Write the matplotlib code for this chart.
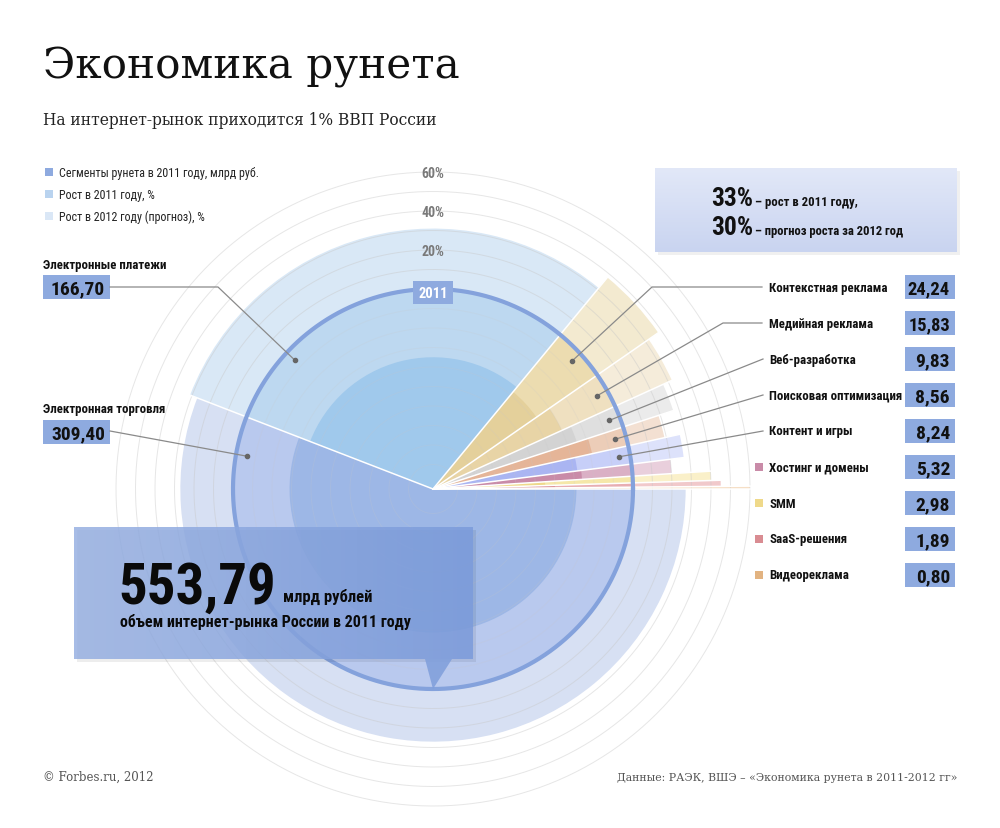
import os
import numpy as np
import matplotlib.pyplot as plt
from matplotlib import font_manager as fm
from matplotlib.patches import Wedge, Rectangle, Polygon
from matplotlib.colors import to_rgb

plt.rcParams['font.family'] = ['DejaVu Sans']

# Сегменты рунета, против часовой стрелки от горизонтали
segments = ['Видеореклама', 'SaaS-решения', 'SMM', 'Хостинг и домены', 'Контент и игры',
            'Поисковая оптимизация', 'Веб-разработка', 'Медийная реклама',
            'Контекстная реклама', 'Электронные платежи', 'Электронная торговля']
volume_2011 = [0.80, 1.89, 2.98, 5.32, 8.24, 8.56, 9.83, 15.83, 24.24, 166.70, 309.40]
growth_2011 = [50, 40, 45, 26, 28, 19, 25, 30, 38, 35, 29]   # %, на глаз
growth_2012 = [60, 45, 40, 20, 27, 19, 27, 32, 38, 31, 27]   # %, прогноз, на глаз
market_growth = [33, 30]
pct_ticks = [20, 40, 60]

# цвета: внутренний (сегмент), средний (рост 2011), внешний (рост 2012)
colors = [
    ('#e2b381', '#edcaa3', '#f6dfc6'),
    ('#d98c92', '#e8adb2', '#f1c9cb'),
    ('#efd98a', '#f5e7a9', '#faf0c9'),
    ('#c98ba8', '#dab0c5', '#e9cfdc'),
    ('#aab5f2', '#c7cff8', '#dde2fb'),
    ('#e5b598', '#eccdb8', '#f3e0d2'),
    ('#d3d3d3', '#dfdfdf', '#ebebeb'),
    ('#e8d4a6', '#efe0c0', '#f5ecda'),
    ('#e4d09b', '#ecdcb0', '#f3ead0'),
    ('#a0c9ec', '#bdd8f0', '#d9e8f6'),
    ('#9db7e6', '#b9c9ee', '#d7e0f3'),
]

W, H = 1000, 829
cx, cy = 433, 490        # центр диаграммы, px
R0, K = 200, 1.95        # кольцо 2011 и px на 1%
BOX = '#8eaadf'


# ищем узкий шрифт с кириллицей
def narrow_font(bold):
    prefs_b = ['robotocondensed-bold', 'liberationsansnarrow-bold.', 'notosans-condensedbold',
               'dejavusanscondensed-bold.', 'opensans-condensedbold', 'notosans-semicondensedbold']
    prefs_r = ['robotocondensed-regular', 'liberationsansnarrow-regular', 'notosans-condensed.',
               'dejavusanscondensed.', 'opensans-condensedregular', 'notosans-semicondensed.']
    files = [f.fname for f in fm.fontManager.ttflist]
    for p in (prefs_b if bold else prefs_r):
        for f in files:
            if os.path.basename(f).lower().startswith(p):
                return fm.FontProperties(fname=f)
    for f in fm.fontManager.ttflist:
        if f.stretch in ('condensed', 'semi-condensed') and 'mono' not in f.name.lower() \
                and 'serif' not in f.name.lower() and f.style == 'normal' \
                and ((f.weight in ('bold', 700)) == bold):
            return fm.FontProperties(fname=f.fname)
    return fm.FontProperties(family='DejaVu Sans', weight='bold' if bold else 'normal',
                             stretch='condensed')


NB = narrow_font(True)
NR = narrow_font(False)

fig = plt.figure(figsize=(W / 100, H / 100), dpi=100)
ax = fig.add_axes([0, 0, 1, 1])
ax.set_xlim(0, W)
ax.set_ylim(H, 0)
ax.axis('off')
renderer = fig.canvas.get_renderer()


def txt(x, y, s, fp, size, max_w=None, **kw):
    t = ax.text(x, y, s, fontproperties=fp, **kw)
    t.set_fontsize(size)
    if max_w:
        w = t.get_window_extent(renderer).width
        if w > max_w:
            t.set_fontsize(size * max_w / w)
    return t


def fit_size(strings, fp, size, max_w):
    # один размер для группы подписей, чтобы самая широкая влезла
    t = ax.text(0, 0, max(strings, key=len), fontproperties=fp)
    t.set_fontsize(size)
    w = max(ax.text(0, 0, s, fontproperties=fp, fontsize=size).get_window_extent(renderer).width
            for s in strings)
    for a in ax.texts[-len(strings) - 1:]:
        a.remove()
    return size * min(1, max_w / w)


total = sum(volume_2011)
angles = np.concatenate([[0], np.cumsum(volume_2011) / total * 360])


def wedge(r, a1, a2, color, z=2):
    # экранные углы против часовой -> данные при перевёрнутой оси y
    ax.add_patch(Wedge((cx, cy), r, -a2, -a1, facecolor=color, edgecolor='none', zorder=z))


for i in range(len(segments)):
    a1, a2 = angles[i], angles[i + 1]
    c_in, c_mid, c_out = colors[i]
    wedge(R0 + K * growth_2012[i], a1, a2, c_out)
    wedge(R0, a1, a2, c_mid)
    wedge(R0 - K * growth_2011[i], a1, a2, c_in)

# сетка
t = np.linspace(0, 2 * np.pi, 400)
for p in range(-90, 70, 10):
    r = R0 + K * p
    ax.plot(cx + r * np.cos(t), cy + r * np.sin(t), color='#c8c8c8', lw=0.7,
            alpha=0.45 if p >= 0 else 0.2, zorder=3)

# белые разделители сегментов
for i, a in enumerate(angles[:-1]):
    r = R0 + K * max(growth_2012[i], growth_2012[i - 1]) + 2
    ax.plot([cx, cx + r * np.cos(np.radians(a))], [cy, cy - r * np.sin(np.radians(a))],
            color='white', lw=1.1, zorder=4)

# кольцо 2011
ax.plot(cx + R0 * np.cos(t), cy + R0 * np.sin(t), color='#84a2dc', lw=3, zorder=5)
ax.add_patch(Rectangle((cx - 20, cy - R0 - 8), 40, 23, facecolor=BOX, edgecolor='none', zorder=6))
txt(cx, cy - R0 + 3.5, '2011', NB, 10.5, ha='center', va='center', color='white', zorder=7)

for p in pct_ticks:
    txt(cx, cy - (R0 + K * p) + 1, f'{p}%', NB, 10, ha='center', va='center',
        color='#7a7a7a', zorder=6)

# заголовок
ax.text(43, 78, 'Экономика рунета', fontsize=30.3, family='DejaVu Serif', color='#111111',
        va='baseline')
ax.text(43, 125, 'На интернет-рынок приходится 1% ВВП России', fontsize=11.2,
        family='DejaVu Serif', color='#222222', va='baseline')

# легенда
leg = [('Сегменты рунета в 2011 году, млрд руб.', '#8eaadf'),
       ('Рост в 2011 году, %', '#b9d3ef'),
       ('Рост в 2012 году (прогноз), %', '#dae7f6')]
leg_size = fit_size([s for s, _ in leg], NR, 9.5, 200)
for k, (s, c) in enumerate(leg):
    y = 173 + 22 * k
    ax.add_patch(Rectangle((45, y - 4), 8, 8, facecolor=c, edgecolor='none'))
    txt(59, y, s, NR, leg_size, va='center', color='#222222')


def dot_xy(r, a):
    return cx + r * np.cos(np.radians(a)), cy - r * np.sin(np.radians(a))


def value_box(x, y, s, w=67):
    ax.add_patch(Rectangle((x, y - 12), w, 24, facecolor=BOX, edgecolor='none', zorder=8))
    txt(x + w - 5, y + 1, s, NB, 14, max_w=w - 8, ha='right', va='center',
        color='#111111', zorder=9)


def fmt(v):
    return f'{v:.2f}'.replace('.', ',')


# левые подписи
left = [(9, 265, 137, 218), (10, 410, 170, None)]
left_size = fit_size([segments[9], segments[10]], NB, 10.5, 124)
for idx, ty, ang, elbow in left:
    txt(43, ty, segments[idx], NB, left_size, va='center', color='#111111')
    value_box(43, ty + 23, fmt(volume_2011[idx]))
    dx, dy = dot_xy(189, ang)
    xs = [110, elbow, dx] if elbow else [110, dx]
    ys = [ty + 23, ty + 23, dy] if elbow else [ty + 22, dy]
    ax.plot(xs, ys, color='#8a8a8a', lw=0.9, zorder=8)
    ax.plot(dx, dy, 'o', color='#666666', ms=3, zorder=9)

# правые подписи
right = segments[8::-1]
right_vals = volume_2011[8::-1]
right_size = fit_size(right, NB, 10, 133)
elbows = [652, 723, None, None, None]
for k, (name, v) in enumerate(zip(right, right_vals)):
    y = 288 + 36 * k
    txt(769, y, name, NB, right_size, va='center', color='#111111')
    value_box(905, y, fmt(v), w=50)
    i = 8 - k
    if k < 5:
        dx, dy = dot_xy(189, (angles[i] + angles[i + 1]) / 2)
        if elbows[k]:
            ax.plot([dx, elbows[k], 762], [dy, y, y], color='#8a8a8a', lw=0.9, zorder=8)
        else:
            ax.plot([dx, 763], [dy, y], color='#8a8a8a', lw=0.9, zorder=8)
        ax.plot(dx, dy, 'o', color='#666666', ms=3, zorder=9)
    else:
        ax.add_patch(Rectangle((755, y - 4), 8, 8, facecolor=colors[i][0], edgecolor='none'))

# блок роста рынка
grad = np.linspace(0, 1, 100)[:, None]
c1, c2 = np.array(to_rgb('#e2e8f8')), np.array(to_rgb('#c9d4f0'))
img = c1 + (c2 - c1) * grad[..., None]
ax.add_patch(Rectangle((658, 172), 302, 84, facecolor='#000000', alpha=0.06, edgecolor='none', zorder=7))
ax.imshow(img, extent=(655, 957, 253, 169), aspect='auto', zorder=8)
ax.set_xlim(0, W)
ax.set_ylim(H, 0)
txt(711, 199, f'{market_growth[0]}%', NB, 19, max_w=42, va='center', color='#111111', zorder=9)
txt(755, 202, '– рост в 2011 году,', NB, 9.5, max_w=102, va='center', color='#111111', zorder=9)
txt(711, 228, f'{market_growth[1]}%', NB, 19, max_w=42, va='center', color='#111111', zorder=9)
txt(755, 231, '– прогноз роста за 2012 год', NB, 9.5, max_w=148, va='center', color='#111111', zorder=9)

# большой блок с объёмом рынка
ax.add_patch(Rectangle((77, 531), 399, 132, facecolor='#000000', alpha=0.07, edgecolor='none', zorder=9))
box_grad = np.linspace(0, 1, 100)[None, :]
b1, b2 = np.array(to_rgb('#97b0e2')), np.array(to_rgb('#7b9bdb'))
ax.imshow(np.dstack([b1[k] + (b2[k] - b1[k]) * box_grad for k in range(3)] + [np.full((1, 100), 0.85)]),
          extent=(74, 473, 660, 528), aspect='auto', zorder=10)
ax.set_xlim(0, W)
ax.set_ylim(H, 0)
ax.add_patch(Polygon([(425, 660), (452, 660), (433, 690)], closed=True,
                     facecolor='#7f9edb', alpha=0.85, edgecolor='none', zorder=10))
txt(118, 604, fmt(total), NB, 50, max_w=158, color='#0a0a0a', va='baseline', zorder=11)
txt(283, 602, 'млрд рублей', NB, 12, max_w=97, color='#0a0a0a', va='baseline', zorder=11)
txt(120, 627, 'объем интернет-рынка России в 2011 году', NB, 13, max_w=289,
    color='#0a0a0a', va='baseline', zorder=11)

# подвал
ax.text(43, 781, '© Forbes.ru, 2012', fontsize=8.5, family='DejaVu Serif', color='#555555',
        va='baseline')
ax.text(957, 781, 'Данные: РАЭК, ВШЭ – «Экономика рунета в 2011-2012 гг»', fontsize=7.8,
        family='DejaVu Serif', color='#555555', va='baseline', ha='right')

fig.savefig('out.png', dpi=100)
